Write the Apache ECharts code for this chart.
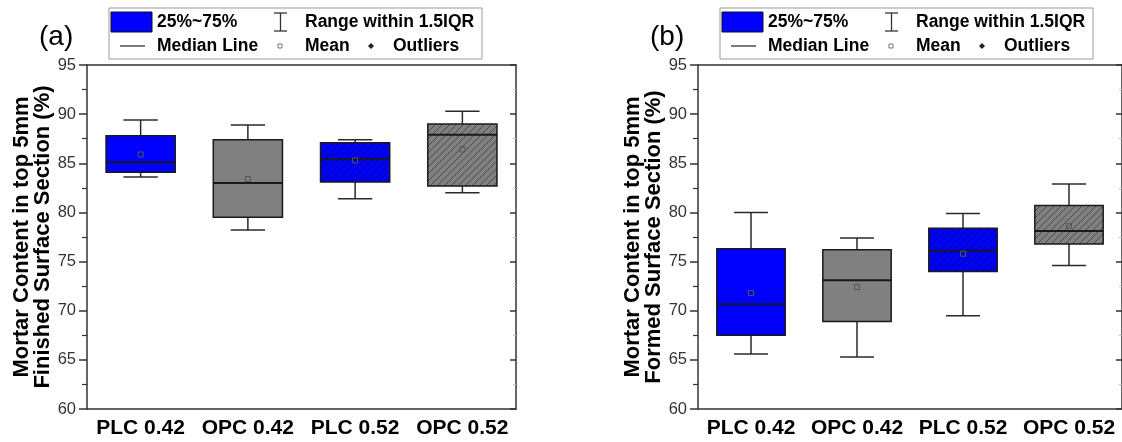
<!DOCTYPE html>
<html>
<head>
<meta charset="utf-8">
<script src="https://cdn.jsdelivr.net/npm/echarts@6/dist/echarts.min.js"></script>
<style>
html,body{margin:0;padding:0;background:#fff;}
#chart{width:1122px;height:442px;}
</style>
</head>
<body>
<div id="chart"></div>
<script>
// ---- data ----
const categories = ['PLC 0.42', 'OPC 0.42', 'PLC 0.52', 'OPC 0.52'];
// [lower whisker, Q1, median, Q3, upper whisker]
const finishedBox = [
  [83.6, 84.1, 85.1, 87.8, 89.4],
  [78.2, 79.5, 83.0, 87.4, 88.9],
  [81.4, 83.1, 85.4, 87.1, 87.4],
  [82.0, 82.7, 87.9, 89.0, 90.3]
];
const finishedMean = [85.9, 83.4, 85.3, 86.4];
const formedBox = [
  [65.6, 67.5, 70.65, 76.3, 80.0],
  [65.3, 68.9, 73.1, 76.2, 77.4],
  [69.5, 74.0, 76.1, 78.4, 79.9],
  [74.6, 76.8, 78.1, 80.7, 82.9]
];
const formedMean = [71.8, 72.4, 75.8, 78.6];
const yTicks = [60, 65, 70, 75, 80, 85, 90, 95];
const boxColors = ['#0000ff', '#808080', '#0000ff', '#808080'];
const hatched = [false, false, true, true];
const yTitleA = 'Mortar Content in top 5mm\nFinished Surface Section (%)';
const yTitleB = 'Mortar Content in top 5mm\nFormed Surface Section (%)';
const legendLabels = ['25%~75%', 'Range within 1.5IQR', 'Median Line', 'Mean', 'Outliers'];

// ---- styling helpers ----
const FONT = '"Liberation Sans", Arial, sans-serif';
function makeHatch(base, lineColor) {
  const s = 7;
  const c = document.createElement('canvas');
  c.width = s; c.height = s;
  const g = c.getContext('2d');
  g.fillStyle = base; g.fillRect(0, 0, s, s);
  g.strokeStyle = lineColor; g.lineWidth = 1;
  g.beginPath();
  g.moveTo(-1, s + 1); g.lineTo(s + 1, -1);
  g.moveTo(-1, 1); g.lineTo(1, -1);
  g.moveTo(s - 1, s + 1); g.lineTo(s + 1, s - 1);
  g.stroke();
  return { image: c, repeat: 'repeat' };
}
const hatchFill = {
  '#0000ff': makeHatch('#0000ff', 'rgba(0,0,70,0.6)'),
  '#808080': makeHatch('#808080', 'rgba(40,40,40,0.6)')
};

function boxData(boxes, means) {
  return boxes.map((b, i) => [i, b[0], b[1], b[2], b[3], b[4], means[i]]);
}

function renderBox(params, api) {
  const idx = api.value(0);
  const band = api.size([1, 0])[0];
  const cx = api.coord([idx, 0])[0];
  const y = k => api.coord([idx, api.value(k)])[1];
  const yLow = y(1), yQ1 = y(2), yMed = y(3), yQ3 = y(4), yHigh = y(5), yMean = y(6);
  const bw = band * 0.645, cw = band * 0.32;
  const color = boxColors[idx];
  const fill = hatched[idx] ? hatchFill[color] : color;
  const line = { stroke: '#2a2a2a', lineWidth: 1.5 };
  return {
    type: 'group',
    children: [
      { type: 'line', shape: { x1: cx, y1: yQ3, x2: cx, y2: yHigh }, style: line },
      { type: 'line', shape: { x1: cx - cw / 2, y1: yHigh, x2: cx + cw / 2, y2: yHigh }, style: line },
      { type: 'line', shape: { x1: cx, y1: yQ1, x2: cx, y2: yLow }, style: line },
      { type: 'line', shape: { x1: cx - cw / 2, y1: yLow, x2: cx + cw / 2, y2: yLow }, style: line },
      { type: 'rect', shape: { x: cx - bw / 2, y: yQ3, width: bw, height: yQ1 - yQ3 },
        style: { fill: fill, stroke: '#1a1a1a', lineWidth: 1.5 } },
      { type: 'line', shape: { x1: cx - bw / 2, y1: yMed, x2: cx + bw / 2, y2: yMed },
        style: { stroke: '#1a1a1a', lineWidth: 2 } },
      { type: 'rect', shape: { x: cx - 2.5, y: yMean - 2.5, width: 5, height: 5 },
        style: { fill: 'none', stroke: '#555', lineWidth: 1 } }
    ]
  };
}

function legend(dx) {
  const t = (text, x, y) => ({
    type: 'text', x: x + dx, y: y,
    style: { text: text, font: 'bold 17.5px ' + FONT, fill: '#000', verticalAlign: 'middle' }
  });
  const r1 = 22, r2 = 46;
  return [
    { type: 'rect', shape: { x: 109 + dx, y: 8, width: 373, height: 51 },
      style: { fill: '#fff', stroke: '#9a9a9a', lineWidth: 1 } },
    { type: 'rect', shape: { x: 111 + dx, y: 12, width: 41, height: 20 },
      style: { fill: '#0000ff', stroke: '#111', lineWidth: 1 } },
    t(legendLabels[0], 157, r1),
    { type: 'line', shape: { x1: 280.5 + dx, y1: 13, x2: 280.5 + dx, y2: 31 }, style: { stroke: '#333', lineWidth: 1.3 } },
    { type: 'line', shape: { x1: 274 + dx, y1: 13, x2: 287 + dx, y2: 13 }, style: { stroke: '#333', lineWidth: 1.3 } },
    { type: 'line', shape: { x1: 274 + dx, y1: 31, x2: 287 + dx, y2: 31 }, style: { stroke: '#333', lineWidth: 1.3 } },
    t(legendLabels[1], 305, r1),
    { type: 'line', shape: { x1: 120 + dx, y1: r2, x2: 145 + dx, y2: r2 }, style: { stroke: '#333', lineWidth: 1.3 } },
    t(legendLabels[2], 157, r2),
    { type: 'rect', shape: { x: 278 + dx, y: r2 - 2, width: 4, height: 4 }, style: { fill: 'none', stroke: '#777', lineWidth: 1 } },
    t(legendLabels[3], 305, r2),
    { type: 'polygon', shape: { points: [[371 + dx, r2 - 3], [374 + dx, r2], [371 + dx, r2 + 3], [368 + dx, r2]] }, style: { fill: '#222' } },
    t(legendLabels[4], 393, r2)
  ];
}

function panelLabel(text, x) {
  return { type: 'text', x: x, y: 37, style: { text: text, font: '28px ' + FONT, fill: '#000', verticalAlign: 'middle' } };
}

const axisLineStyle = { color: '#333', width: 1.5 };

function xAxes(gi) {
  return [
    { gridIndex: gi, type: 'category', data: categories, position: 'bottom',
      axisLine: { lineStyle: axisLineStyle },
      axisTick: { alignWithLabel: true, inside: false, length: 5, lineStyle: { color: '#333', width: 1.5 } },
      axisLabel: { interval: 0, fontFamily: FONT, fontSize: 21, fontWeight: 'bold', color: '#000', margin: 9 } },
    { gridIndex: gi, type: 'category', data: categories, position: 'top',
      axisLine: { lineStyle: axisLineStyle },
      axisTick: { alignWithLabel: true, inside: true, length: 5, lineStyle: { color: '#333', width: 1.5 } },
      axisLabel: { show: false } }
  ];
}
function yAxes(gi, title, gap) {
  return [
    { gridIndex: gi, type: 'value', min: yTicks[0], max: yTicks[yTicks.length - 1], interval: 5,
      position: 'left',
      name: title, nameLocation: 'middle', nameGap: gap, nameRotate: 90,
      nameTextStyle: { fontFamily: FONT, fontSize: 22, fontWeight: 'bold', color: '#000', lineHeight: 21 },
      axisLine: { show: true, lineStyle: axisLineStyle },
      axisTick: { show: true, inside: false, length: 8, lineStyle: { color: '#333', width: 1.5 } },
      minorTick: { show: true, splitNumber: 2, length: 5, lineStyle: { color: '#333', width: 1.2 } },
      splitLine: { show: false },
      axisLabel: { fontFamily: FONT, fontSize: 16.5, color: '#333', margin: 11 } },
    { gridIndex: gi, type: 'value', min: yTicks[0], max: yTicks[yTicks.length - 1], interval: 5,
      position: 'right',
      axisLine: { show: true, lineStyle: axisLineStyle },
      axisTick: { show: true, inside: true, length: 6, lineStyle: { color: '#333', width: 1.5 } },
      minorTick: { show: true, splitNumber: 2, length: 3, lineStyle: { color: '#bbb', width: 1 } },
      splitLine: { show: false },
      axisLabel: { show: false } }
  ];
}

const chart = echarts.init(document.getElementById('chart'), null, { renderer: 'canvas' });
chart.setOption({
  animation: false,
  backgroundColor: '#fff',
  grid: [
    { left: 87, top: 65, width: 429, height: 344 },
    { left: 698, top: 65, width: 428, height: 344 }
  ],
  xAxis: [...xAxes(0), ...xAxes(1)],
  yAxis: [...yAxes(0, yTitleA, 33), ...yAxes(1, yTitleB, 34)],
  series: [
    { type: 'custom', xAxisIndex: 0, yAxisIndex: 0, renderItem: renderBox,
      encode: { x: 0, y: [1, 2, 3, 4, 5, 6] }, data: boxData(finishedBox, finishedMean), clip: false },
    { type: 'custom', xAxisIndex: 2, yAxisIndex: 2, renderItem: renderBox,
      encode: { x: 0, y: [1, 2, 3, 4, 5, 6] }, data: boxData(formedBox, formedMean), clip: false }
  ],
  graphic: [
    panelLabel('(a)', 39),
    panelLabel('(b)', 650),
    ...legend(0),
    ...legend(611)
  ]
});
</script>
</body>
</html>
